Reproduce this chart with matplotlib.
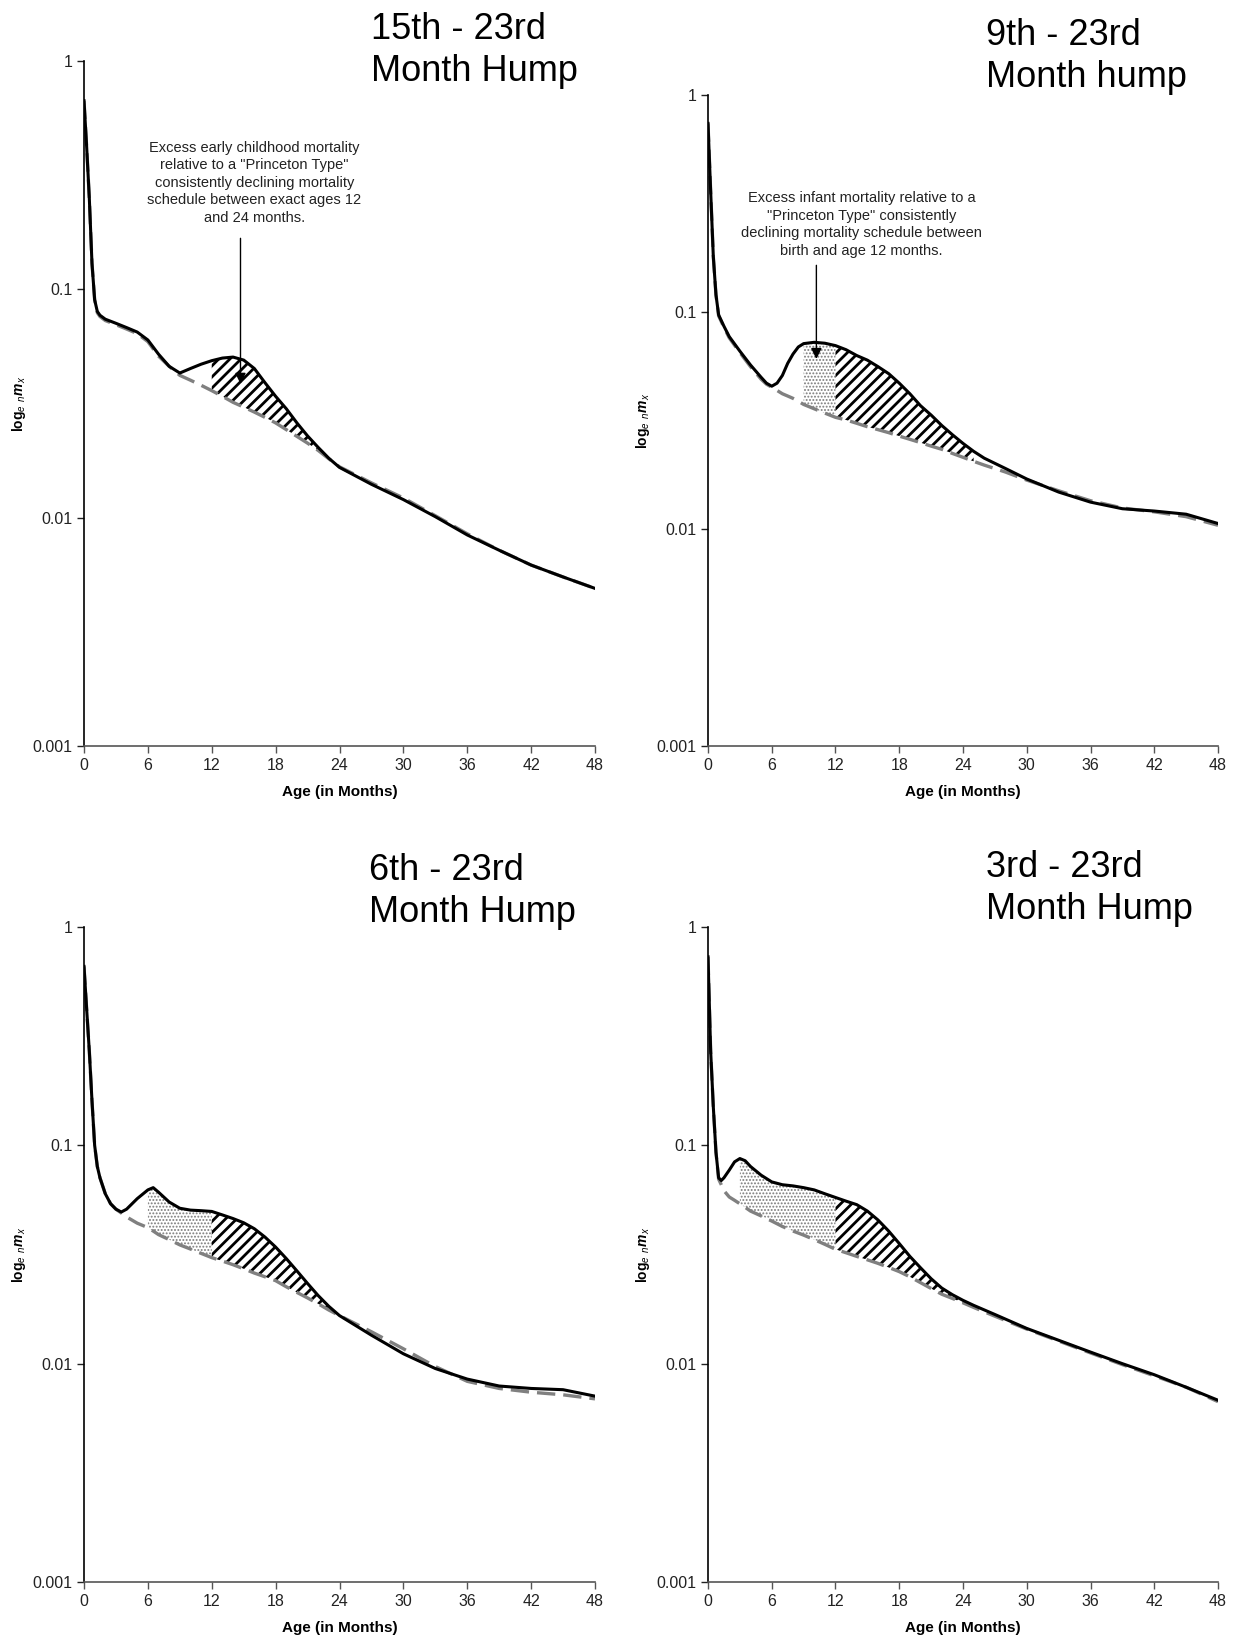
import matplotlib
matplotlib.use('Agg')
import matplotlib.pyplot as plt

plt.rcParams['font.family'] = ['Liberation Sans', 'DejaVu Sans']
plt.rcParams['mathtext.fontset'] = 'custom'
plt.rcParams['mathtext.rm'] = 'Liberation Sans:bold'
plt.rcParams['mathtext.it'] = 'Liberation Sans:italic'
plt.rcParams['mathtext.bf'] = 'Liberation Sans:bold:italic'

W, H = 1241, 1639

# ---- data (age in months, nmx) ----
# panel 1: 15th - 23rd month hump
age_a = [0, 0.25, 0.5, 0.75, 1, 1.25, 1.5, 2, 3, 4, 5, 6, 7, 8, 9, 10, 11, 12, 13, 14,
         15, 16, 17, 18, 19, 20, 21, 22, 23, 24, 27, 30, 33, 36, 39, 42, 45, 48]
obs_a = [0.67, 0.42, 0.25, 0.13, 0.090, 0.080, 0.077, 0.074, 0.071, 0.068, 0.065, 0.060,
         0.052, 0.046, 0.043, 0.045, 0.047, 0.0487, 0.050, 0.0505, 0.049, 0.045, 0.039,
         0.034, 0.030, 0.026, 0.0228, 0.0203, 0.0182, 0.0166, 0.0140, 0.0120, 0.0101,
         0.0084, 0.0072, 0.0062, 0.0055, 0.0049]
mod_a = [0.67, 0.42, 0.25, 0.13, 0.090, 0.079, 0.076, 0.073, 0.070, 0.067, 0.064, 0.059,
         0.051, 0.046, 0.042, 0.040, 0.038, 0.0360, 0.034, 0.032, 0.0305, 0.029, 0.0275,
         0.026, 0.0243, 0.0227, 0.0212, 0.0197, 0.0181, 0.0167, 0.0142, 0.0122, 0.0102,
         0.0085, 0.0072, 0.0062, 0.0055, 0.0049]

# panel 2: 9th - 23rd month hump
age_b = [0, 0.25, 0.5, 0.75, 1, 1.5, 2, 3, 4, 5, 5.5, 6, 6.5, 7, 7.5, 8, 8.5, 9, 10, 11,
         12, 13, 14, 15, 16, 17, 18, 19, 20, 21, 22, 23, 24, 25, 26, 28, 30, 33, 36, 39,
         42, 45, 48]
obs_b = [0.74, 0.36, 0.18, 0.12, 0.097, 0.086, 0.077, 0.066, 0.057, 0.050, 0.047, 0.0455,
         0.047, 0.051, 0.058, 0.064, 0.069, 0.0715, 0.0725, 0.0718, 0.0700, 0.067, 0.063,
         0.060, 0.056, 0.052, 0.047, 0.042, 0.037, 0.0335, 0.030, 0.0272, 0.0248, 0.0228,
         0.0212, 0.0190, 0.0170, 0.0148, 0.0133, 0.0124, 0.0121, 0.0117, 0.0106]
mod_b = [0.74, 0.36, 0.18, 0.12, 0.096, 0.085, 0.076, 0.065, 0.056, 0.049, 0.0465, 0.0450,
         0.0435, 0.042, 0.041, 0.040, 0.0388, 0.0375, 0.0358, 0.0342, 0.0327, 0.0318,
         0.0307, 0.0296, 0.0287, 0.0278, 0.0268, 0.0259, 0.0250, 0.0241, 0.0233, 0.0223,
         0.0214, 0.0205, 0.0197, 0.0183, 0.0168, 0.0150, 0.0135, 0.0125, 0.0120, 0.0114,
         0.0104]

# panel 3: 6th - 23rd month hump
age_c = [0, 0.25, 0.5, 0.75, 1, 1.25, 1.5, 2, 2.5, 3, 3.5, 4, 5, 6, 6.5, 7, 8, 9, 10, 11,
         12, 13, 14, 15, 16, 17, 18, 19, 20, 21, 22, 23, 24, 27, 30, 33, 36, 39, 42, 45, 48]
obs_c = [0.66, 0.42, 0.27, 0.16, 0.10, 0.080, 0.071, 0.060, 0.054, 0.051, 0.0495, 0.051,
         0.057, 0.0625, 0.064, 0.061, 0.055, 0.0515, 0.0505, 0.0502, 0.0498, 0.048, 0.0462,
         0.0442, 0.0415, 0.0380, 0.0342, 0.0303, 0.0266, 0.0233, 0.0205, 0.0183, 0.0166,
         0.0135, 0.0111, 0.0095, 0.0085, 0.0079, 0.0077, 0.0076, 0.0071]
mod_c = [0.66, 0.42, 0.27, 0.16, 0.10, 0.080, 0.071, 0.060, 0.054, 0.051, 0.049, 0.047,
         0.044, 0.042, 0.0405, 0.039, 0.037, 0.035, 0.0335, 0.032, 0.0306, 0.0295, 0.0284,
         0.0272, 0.0260, 0.0250, 0.0240, 0.0225, 0.0212, 0.0200, 0.0188, 0.0176, 0.0166,
         0.0140, 0.0117, 0.0097, 0.0083, 0.0077, 0.0074, 0.0072, 0.0069]

# panel 4: 3rd - 23rd month hump
age_d = [0, 0.25, 0.5, 0.75, 1, 1.25, 1.5, 2, 2.5, 3, 3.5, 4, 5, 6, 7, 8, 9, 10, 11, 12,
         13, 14, 15, 16, 17, 18, 19, 20, 21, 22, 23, 24, 25, 27, 30, 33, 36, 39, 42, 45, 48]
obs_d = [0.73, 0.27, 0.15, 0.093, 0.071, 0.069, 0.071, 0.077, 0.084, 0.087, 0.085, 0.080,
         0.073, 0.068, 0.066, 0.0652, 0.064, 0.0625, 0.060, 0.0577, 0.0555, 0.0535, 0.0500,
         0.0455, 0.0405, 0.0355, 0.0310, 0.0275, 0.0245, 0.0222, 0.0207, 0.0195, 0.0185,
         0.0168, 0.0145, 0.0128, 0.0113, 0.0100, 0.0089, 0.0078, 0.0068]
mod_d = [0.73, 0.27, 0.15, 0.093, 0.070, 0.066, 0.062, 0.058, 0.056, 0.054, 0.052, 0.050,
         0.0475, 0.045, 0.0425, 0.0405, 0.0388, 0.0370, 0.0352, 0.0334, 0.0322, 0.0310,
         0.0299, 0.0288, 0.0276, 0.0264, 0.0250, 0.0235, 0.0221, 0.0208, 0.0199, 0.0190,
         0.0181, 0.0165, 0.0144, 0.0127, 0.0112, 0.0099, 0.0088, 0.0078, 0.0067]

titles = ['15th - 23rd\nMonth Hump', '9th - 23rd\nMonth hump',
          '6th - 23rd\nMonth Hump', '3rd - 23rd\nMonth Hump']
dot_from = [None, 9, 6, 3]   # start of stippled (infant) excess
xticks = [0, 6, 12, 18, 24, 30, 36, 42, 48]
yticks = [0.001, 0.01, 0.1, 1]
ytick_labels = ['0.001', '0.01', '0.1', '1']

panels = [(age_a, obs_a, mod_a), (age_b, obs_b, mod_b),
          (age_c, obs_c, mod_c), (age_d, obs_d, mod_d)]

# axes boxes in pixels: left, top, right, bottom
boxes = [(84, 61, 595, 746), (708, 95, 1218, 746),
         (84, 927, 595, 1582), (708, 927, 1218, 1582)]
title_pos = [(371, 12), (986, 18), (369, 853), (986, 850)]

fig = plt.figure(figsize=(W / 100, H / 100), dpi=100)

axes = []
for i, (age, obs, mod) in enumerate(panels):
    l, t, r, b = boxes[i]
    ax = fig.add_axes([l / W, 1 - b / H, (r - l) / W, (b - t) / H])
    axes.append(ax)
    ax.set_yscale('log')
    ax.set_xlim(0, 48)
    ax.set_ylim(0.001, 1)

    # excess areas
    if dot_from[i] is not None:
        m = [(dot_from[i] <= a <= 12) for a in age]
        with plt.rc_context({'hatch.linewidth': 0.9}):
            ax.fill_between(age, mod, obs, where=m, facecolor='none',
                            edgecolor='#7a7a7a', linewidth=0, hatch='.....', zorder=1)
    m = [(12 <= a <= 25) for a in age]
    with plt.rc_context({'hatch.linewidth': 2.0}):
        ax.fill_between(age, mod, obs, where=m, facecolor='none',
                        edgecolor='black', linewidth=0, hatch='///', zorder=1)

    ax.plot(age, mod, color='#808080', lw=2.4, ls=(0, (5.5, 2.4)), zorder=2)
    ax.plot(age, obs, color='black', lw=2.2, zorder=3)

    ax.set_xticks(xticks)
    ax.set_yticks(yticks)
    ax.set_yticklabels(ytick_labels)
    ax.minorticks_off()
    ax.tick_params(axis='both', labelsize=11.5, length=5, width=1, direction='out',
                   colors='#222222')
    ax.tick_params(axis='x', colors='#555555', labelcolor='#222222')
    for s in ['top', 'right']:
        ax.spines[s].set_visible(False)
    ax.spines['left'].set_color('black')
    ax.spines['bottom'].set_color('#555555')
    ax.spines['left'].set_linewidth(1.2)
    ax.spines['bottom'].set_linewidth(1.2)
    ax.set_xlabel('Age (in Months)', fontsize=11, fontweight='bold', labelpad=9)
    ax.set_ylabel(r'$\mathrm{log}_{\mathit{e}}\ {}_{n}\mathbf{m}_{\mathit{x}}$',
                  fontsize=10)
    ax.yaxis.set_label_coords(-0.11, 0.5)

    tx, ty = title_pos[i]
    fig.text(tx / W, 1 - ty / H, titles[i], fontsize=26, ha='left', va='top',
             linespacing=1.25)

# annotations
axes[0].text(16.0, 0.192, 'Excess early childhood mortality\nrelative to a "Princeton Type"\n'
             'consistently declining mortality\nschedule between exact ages 12\n'
             'and 24 months.', ha='center', va='bottom', fontsize=10.5,
             linespacing=1.32, color='#222222')
axes[0].annotate('', xy=(14.7, 0.0375), xytext=(14.7, 0.172),
                 arrowprops=dict(arrowstyle='-|>', color='black', lw=1,
                                 mutation_scale=16), zorder=4)

axes[1].text(14.45, 0.178, 'Excess infant mortality relative to a\n"Princeton Type" consistently\n'
             'declining mortality schedule between\nbirth and age 12 months.',
             ha='center', va='bottom', fontsize=10.5, linespacing=1.32, color='#222222')
axes[1].annotate('', xy=(10.2, 0.059), xytext=(10.2, 0.169),
                 arrowprops=dict(arrowstyle='-|>', color='black', lw=1,
                                 mutation_scale=16), zorder=4)

plt.savefig('out.png', dpi=100)
